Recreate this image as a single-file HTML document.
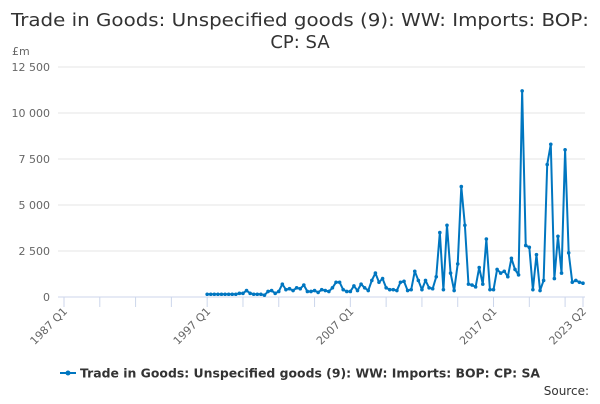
<!DOCTYPE html>
<html><head><meta charset="utf-8"><style>
body{margin:0;background:#fff;font-family:"DejaVu Sans",sans-serif;}
svg text{font-family:"DejaVu Sans",sans-serif;}
</style></head><body>
<svg id="chart" width="600" height="400">
<text x="300" y="26" text-anchor="middle" font-size="18" fill="#333" textLength="578" lengthAdjust="spacingAndGlyphs">Trade in Goods: Unspecified goods (9): WW: Imports: BOP:</text>
<text x="300" y="48" text-anchor="middle" font-size="18" fill="#333">CP: SA</text>
<text x="12" y="55" font-size="11" fill="#666">£m</text>
<g id="grid"></g><g id="xaxis"></g><g id="series"></g>
<g>
<line x1="60" y1="373" x2="76" y2="373" stroke="#0076c0" stroke-width="2"/>
<circle cx="68" cy="373" r="2.5" fill="#0076c0"/>
<text x="80" y="377.5" font-size="12" font-weight="bold" fill="#333" textLength="460" lengthAdjust="spacingAndGlyphs">Trade in Goods: Unspecified goods (9): WW: Imports: BOP: CP: SA</text>
</g>
<text x="589" y="395" text-anchor="end" font-size="12" fill="#333">Source:</text>
</svg>
<script>
const yTicks=[0,2500,5000,7500,10000,12500];
const yTickLabels=["0","2 500","5 000","7 500","10 000","12 500"];
const xTickLabels=["1987 Q1","1997 Q1","2007 Q1","2017 Q1","2023 Q2"];
const xTickIndex=[0,40,80,120,145];
const startIndex=40;
const values=[150,150,150,150,150,150,150,150,150,200,200,350,200,150,150,150,100,300,350,200,300,700,400,450,350,500,450,650,300,300,350,250,400,350,300,500,800,800,400,300,
300,600,350,700,500,350,900,1300,800,1000,500,400,400,350,800,850,350,400,1400,900,400,900,500,450,1100,3500,400,3900,1300,350,1800,6000,3900,700,650,550,1600,700,3150,400,
400,1500,1300,1400,1100,2100,1500,1200,11200,2800,2700,400,2300,350,900,7200,8300,1000,3300,1300,8000,2400,800,900,800,750];
const NS="http://www.w3.org/2000/svg";
const x=i=>64+i*(583-64)/145;
const y=v=>297-v*230/12500;
function mk(t,a,p){const e=document.createElementNS(NS,t);for(const k in a)e.setAttribute(k,a[k]);p.appendChild(e);return e;}
const grid=document.getElementById('grid');
yTicks.forEach((v,i)=>{
 const l=mk('line',{x1:58,x2:585,y1:y(v),y2:y(v),stroke:i==0?'#ccd6eb':'#e6e6e6','stroke-width':1},grid);
 
 
 const t=mk('text',{x:50,y:y(v)+4,'text-anchor':'end','font-size':11,fill:'#666'},grid);
 t.textContent=yTickLabels[i];
 
 
});
const xa=document.getElementById('xaxis');
for(let i=0;i<=145;i+=10){
 const l=mk('line',{x1:x(i),x2:x(i),y1:297,y2:307,stroke:'#ccd6eb'},xa);
 
 
}
mk('line',{x1:x(145),x2:x(145),y1:297,y2:307,stroke:'#ccd6eb'},xa);
xTickLabels.forEach((s,i)=>{
 const px=x(xTickIndex[i])+4,py=312;
 const t=mk('text',{x:px,y:py,'text-anchor':'end','font-size':11,fill:'#666',transform:`rotate(-45 ${px} ${py})`},xa);
 t.textContent=s;
 
 
});
const g=document.getElementById('series');
const pts=values.map((v,i)=>x(startIndex+i)+','+y(v)).join(' ');
const pl=mk('polyline',{points:pts,fill:'none',stroke:'#0076c0','stroke-width':2,'stroke-linejoin':'round'},g);


values.forEach((v,i)=>{
 const c=mk('circle',{cx:x(startIndex+i),cy:y(v),r:1.8,fill:'#0076c0'},g);
 
 
});
</script>
</body></html>
